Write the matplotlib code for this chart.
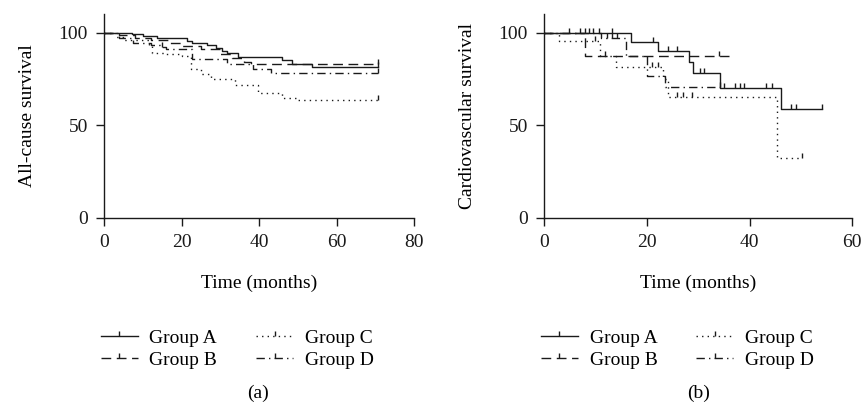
import matplotlib
matplotlib.use("Agg")
import matplotlib.pyplot as plt
from matplotlib.lines import Line2D

plt.rcParams['font.family'] = ['Liberation Serif', 'DejaVu Serif']
plt.rcParams['font.size'] = 14

groups = ["Group A", "Group B", "Group C", "Group D"]

# (a) all-cause survival: step times (months), survival (%), last follow-up, censor times
all_a_t = [0, 7.1, 10, 13.6, 21.3, 22.6, 26.5, 29.0, 30.3, 31.6, 34.6, 45.8, 48.4, 53.5]
all_a_s = [100, 99.2, 98.3, 97.2, 95.7, 94.2, 93.1, 91.7, 89.9, 89.2, 87.0, 85.2, 82.8, 81.6]
all_b_t = [0, 4, 8, 12, 17, 20, 25, 30, 33, 36, 38]
all_b_s = [100, 98.5, 97.2, 96.0, 94.5, 93.0, 91.0, 88.5, 86.5, 84.0, 82.8]
all_c_t = [0, 3, 5, 11.5, 12.3, 16, 20, 22.5, 25, 27.7, 33.8, 39.8, 45.8, 49.7]
all_c_s = [100, 97.5, 96.0, 92.5, 89.2, 88.5, 87.6, 80.1, 77.5, 74.7, 71.5, 67.5, 64.8, 63.7]
all_d_t = [0, 4, 7.5, 12, 14.5, 16, 22.6, 31.6, 38.5, 43]
all_d_s = [100, 97.0, 94.5, 93.5, 92.2, 91.3, 85.9, 82.8, 80.1, 78.0]
all_end = [70.7, 70.7, 70.7, 70.7]
all_cens = [[70.7], [70.7], [70.7], [15.0, 70.7]]

# (b) cardiovascular survival
cv_a_t = [0, 16.9, 22.1, 28.3, 29.0, 34.2, 46.1]
cv_a_s = [100, 95.0, 89.9, 84.1, 78.4, 70.3, 58.6]
cv_b_t = [0, 8.0]
cv_b_s = [100, 87.3]
cv_c_t = [0, 3.0, 10.9, 14.0, 23.2, 24.2, 45.3]
cv_c_s = [100, 95.5, 87.3, 81.4, 75.0, 65.3, 32.4]
cv_d_t = [0, 11.0, 16.0, 20.0, 23.6]
cv_d_s = [100, 96.8, 87.3, 76.5, 70.5]
cv_end = [54.2, 36.1, 50.2, 34.2]
cv_cens = [
    [4.9, 7.1, 8.0, 8.8, 9.6, 10.7, 13.2, 21.3, 24.1, 25.8, 30.3, 31.2,
     35.0, 37.2, 38.2, 39.0, 43.2, 44.3, 48.0, 49.1, 54.2],
    [11.9, 34.1],
    [9.9, 21.0, 22.2, 25.8, 27.1, 28.8, 50.2],
    [12.2, 13.2, 14.2, 34.2],
]

styles = ['-', (0, (7, 4)), (0, (1, 3)), (0, (6, 3, 1, 3))]
ink = '#1a1a1a'
tick_marker = [(0, 0), (0, 1)]


def surv_at(times, surv, t):
    val = surv[0]
    for ti, si in zip(times, surv):
        if ti <= t:
            val = si
    return val


def draw_panel(ax, curves, ends, cens, xmax, ylabel):
    for (times, surv), end, cs, ls in zip(curves, ends, cens, styles):
        xs = list(times) + [end]
        ys = list(surv) + [surv[-1]]
        ax.step(xs, ys, where='post', color=ink, lw=1.0, linestyle=ls)
        ax.plot(cs, [surv_at(times, surv, c) for c in cs], linestyle='none',
                marker=tick_marker, markersize=7, color=ink, mew=1.0)
    ax.set_xlim(0, xmax)
    ax.set_ylim(0, 110)
    ax.set_xticks(range(0, xmax + 1, 20))
    ax.set_yticks([0, 50, 100])
    for side in ['top', 'right']:
        ax.spines[side].set_visible(False)
    for side in ['left', 'bottom']:
        ax.spines[side].set_linewidth(1.0)
        ax.spines[side].set_color(ink)
    ax.tick_params(direction='out', length=5.5, width=1.0, colors=ink, pad=6)
    ax.set_xlabel('Time (months)', labelpad=17)
    ax.set_ylabel(ylabel, labelpad=16)
    handles = [Line2D([], [], color=ink, lw=1.0, linestyle=ls, marker=tick_marker,
                      markersize=7, mew=1.0) for ls in styles]
    ax.legend(handles, groups, ncol=2, loc='upper left', bbox_to_anchor=(-0.01, -0.545),
              frameon=False, numpoints=1, handlelength=1.9, handletextpad=0.6,
              columnspacing=2.0, labelspacing=0.25, borderpad=0, borderaxespad=0)


fig = plt.figure(figsize=(8.65, 4.08), dpi=100)
ax1 = fig.add_axes([0.1202, 0.4657, 0.479 - 0.1202, 0.5])
ax2 = fig.add_axes([0.6289, 0.4657, 0.9853 - 0.6289, 0.5])

draw_panel(ax1, [(all_a_t, all_a_s), (all_b_t, all_b_s), (all_c_t, all_c_s), (all_d_t, all_d_s)],
           all_end, all_cens, 80, 'All-cause survival')
draw_panel(ax2, [(cv_a_t, cv_a_s), (cv_b_t, cv_b_s), (cv_c_t, cv_c_s), (cv_d_t, cv_d_s)],
           cv_end, cv_cens, 60, 'Cardiovascular survival')

fig.text(0.2983, 0.035, '(a)', ha='center', va='center', fontsize=14)
fig.text(0.8071, 0.035, '(b)', ha='center', va='center', fontsize=14)

fig.savefig('out.png', dpi=100)
